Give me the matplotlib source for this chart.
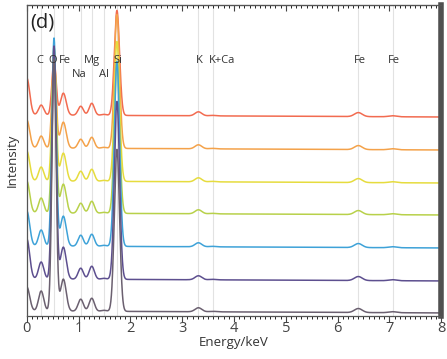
import numpy as np
import matplotlib
matplotlib.use("Agg")
import matplotlib.pyplot as plt

plt.rcParams['font.family'] = ['Open Sans', 'DejaVu Sans']

# peak energies (keV): zero peak, C, O, Fe L, Na, Mg, Al, Si, K, K+Ca, Fe Ka, Fe Kb
peak_e = [0.0, 0.277, 0.525, 0.705, 1.041, 1.254, 1.487, 1.740, 3.313, 3.59, 6.40, 7.06]
peak_w = [0.055, 0.05, 0.04, 0.055, 0.05, 0.05, 0.05, 0.05, 0.065, 0.065, 0.075, 0.075]

colors = ["#f26b50", "#f4a24a", "#e6dc3e", "#b8d14a", "#3ea2d8", "#5d4f8f", "#6b6070"]
offsets = [199, 166, 133, 101, 68, 35, 3]
# peak heights above each trace's baseline (same order as peak_e)
heights = [
    [37, 10, 55, 22, 9, 12, 1, 105, 4, 0.5, 4, 1],
    [28, 12, 93, 26, 9, 11, 1, 134, 4, 0.5, 4, 1],
    [30, 14, 130, 28, 10, 12, 1, 140, 4, 0.5, 4, 1],
    [32, 15, 167, 29, 10, 12, 1, 152, 4, 0.5, 4, 1],
    [35, 16, 208, 30, 11, 12, 1, 185, 4, 0.5, 4, 1],
    [40, 17, 233, 32, 11, 13, 1, 178, 4, 0.5, 4, 1],
    [24, 20, 252, 32, 12, 13, 1, 162, 4, 0.5, 4, 1],
]
bg_left = 2.0

line_e = [0.277, 0.525, 0.705, 1.041, 1.254, 1.487, 1.740, 3.313, 3.59, 6.40, 7.06]
labels = ["C", "O", "Fe", "Na", "Mg", "Al", "Si", "K", "K+Ca", "Fe", "Fe"]
label_x = [0.25, 0.5, 0.73, 1.02, 1.25, 1.49, 1.76, 3.33, 3.77, 6.43, 7.08]
label_row = [0, 0, 0, 1, 0, 1, 0, 0, 0, 0, 0]

fig = plt.figure(figsize=(4.47, 3.59), dpi=100)
ax = fig.add_axes([0.060, 0.120, 0.927, 0.866])

E = np.linspace(0, 8, 3000)
for e in line_e:
    ax.axvline(e, color="#e2e2e2", lw=0.8, zorder=0)

for col, off, h in zip(colors, offsets, heights):
    y = off + bg_left * (1 - E / 8)
    for pe, pw, ph in zip(peak_e, peak_w, h):
        y = y + ph * np.exp(-0.5 * ((E - pe) / pw) ** 2)
    ax.plot(E, y, color=col, lw=1.1)

for lx, lab, row in zip(label_x, labels, label_row):
    ax.text(lx, 256 - row * 14, lab, ha="center", va="center", fontsize=8, color="#333333")

ax.text(0.06, 294, "(d)", fontsize=14.5, ha="left", va="center", color="#222222")

ax.set_xlim(0, 8)
ax.set_ylim(0, 311)
ax.set_yticks([])
ax.set_xticks(range(9))
ax.set_xticks(np.arange(0, 8.01, 0.1), minor=True)
ax.tick_params(axis="x", which="major", direction="out", length=4, width=0.8,
               labelsize=10.5, pad=0, colors="#444444")
ax.tick_params(axis="x", which="minor", direction="out", length=2, width=0.6)

# top axis: ticks pointing inwards, no labels
top = ax.secondary_xaxis("top")
top.set_xticks(range(9))
top.set_xticks(np.arange(0, 8.01, 0.1), minor=True)
top.tick_params(which="major", direction="in", length=4, width=0.8, labeltop=False, colors="#444444")
top.tick_params(which="minor", direction="in", length=2, width=0.6)
top.spines["top"].set_color("#555555")

for s in ["left", "bottom", "top"]:
    ax.spines[s].set_color("#555555")
    ax.spines[s].set_linewidth(0.9)
ax.spines["right"].set_color("#505050")
ax.spines["right"].set_linewidth(4)
ax.set_xlabel("Energy/keV", fontsize=9.5, labelpad=0, color="#333333")
ax.set_ylabel("Intensity", fontsize=9.5, labelpad=6, color="#333333")

fig.savefig("out.png", dpi=100)
